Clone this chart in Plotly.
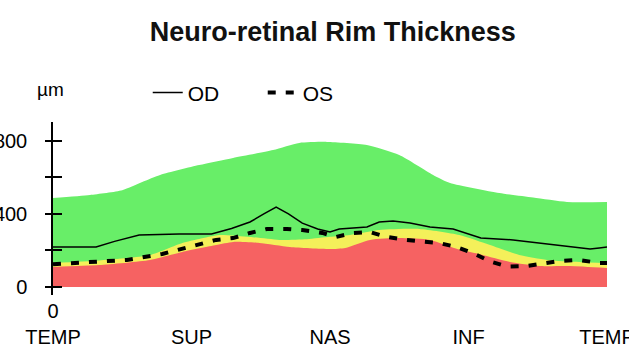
import plotly.graph_objects as go

# ---- data (degrees around the disc, thickness in µm) ----
green_deg = [0, 24, 45, 58, 70, 95, 117, 143, 160, 178, 204, 225, 247, 258, 290, 312, 334, 360]
green_top = [488, 504, 530, 575, 615, 668, 707, 750, 789, 795, 778, 723, 614, 570, 515, 490, 466, 466]

yellow_deg = [0, 30, 63, 84, 95, 108, 128, 147, 165, 180, 193, 212, 238, 264, 284, 303, 321, 342, 360]
yellow_top = [131, 145, 175, 241, 263, 285, 274, 258, 262, 275, 285, 312, 318, 285, 230, 175, 148, 137, 131]

red_deg = [0, 30, 63, 84, 106, 117, 134, 154, 180, 190, 206, 225, 245, 264, 278, 297, 316, 336, 360]
red_top = [110, 120, 148, 192, 230, 247, 241, 219, 208, 214, 258, 268, 258, 205, 178, 137, 115, 115, 104]

od_deg = [0, 28, 40, 56, 82, 103, 116, 128, 137, 145, 153, 162, 172, 180, 186, 195, 204, 212, 221, 232, 245, 260, 271, 278, 299, 316, 334, 349, 355, 360]
od_val = [219, 219, 250, 285, 290, 290, 320, 356, 400, 438, 400, 350, 318, 301, 318, 322, 329, 356, 362, 351, 329, 318, 290, 268, 258, 241, 225, 208, 214, 219]

os_deg = [0, 48, 71, 84, 95, 106, 117, 128, 139, 152, 162, 175, 184, 195, 206, 217, 229, 240, 251, 262, 273, 284, 295, 308, 318, 329, 342, 355, 360]
os_val = [125, 148, 181, 208, 236, 258, 268, 296, 318, 318, 312, 296, 274, 296, 301, 274, 258, 247, 241, 219, 185, 140, 112, 115, 126, 142, 148, 131, 131]

x_tickvals = [0, 90, 180, 270, 360]
x_ticktext = ["0<br>TEMP", " <br>SUP", " <br>NAS", " <br>INF", " <br>TEMP"]
y_tickvals = [0, 200, 400, 600, 800]
y_ticktext = ["0", "", "400", "", "800"]

FONT = "Liberation Sans, Arial, sans-serif"

fig = go.Figure()
band_style = dict(mode="lines", line=dict(width=0, shape="spline", smoothing=0.6),
                  fill="tozeroy", showlegend=False, hoverinfo="skip")
fig.add_trace(go.Scatter(x=green_deg, y=green_top, fillcolor="rgb(104,238,104)", **band_style))
fig.add_trace(go.Scatter(x=yellow_deg, y=yellow_top, fillcolor="rgb(244,240,90)", **band_style))
fig.add_trace(go.Scatter(x=red_deg, y=red_top, fillcolor="rgb(246,98,98)", **band_style))

fig.add_trace(go.Scatter(x=od_deg, y=od_val, mode="lines", name="OD",
                         line=dict(color="black", width=1.5)))
fig.add_trace(go.Scatter(x=os_deg, y=os_val, mode="lines", name="OS",
                         line=dict(color="black", width=4, dash="8px,10px")))
# helper axis for the inner half of the crossing ticks
fig.add_trace(go.Scatter(x=[], y=[], yaxis="y2", showlegend=False))

fig.update_layout(
    width=629, height=349,
    margin=dict(l=53, r=22, t=122, b=54, autoexpand=False),
    paper_bgcolor="white", plot_bgcolor="white",
    font=dict(family=FONT, size=20, color="black"),
    title=dict(text="<b>Neuro-retinal Rim Thickness</b>", x=0.529, xanchor="center",
               y=0.911, yanchor="middle", yref="container", xref="container",
               font=dict(family=FONT, size=27, color="#111")),
    xaxis=dict(range=[0, 360], tickvals=x_tickvals, ticktext=x_ticktext,
               showgrid=False, zeroline=False, showline=False, ticks="",
               tickfont=dict(size=20), ticklabelstandoff=2, automargin=False,
               ticklabeloverflow="allow"),
    yaxis=dict(range=[-44, 904], tickvals=y_tickvals, ticktext=y_ticktext,
               showgrid=False, zeroline=False, showline=True, linecolor="black",
               linewidth=1.5, ticks="outside", ticklen=6, tickwidth=1.5,
               tickcolor="black", tickfont=dict(size=20), ticklabelstandoff=14,
               automargin=False, ticklabeloverflow="allow"),
    yaxis2=dict(range=[-44, 904], overlaying="y", side="left", anchor="x",
                tickvals=y_tickvals, showticklabels=False, showgrid=False,
                zeroline=False, showline=False, ticks="inside", ticklen=9,
                tickwidth=1.5, tickcolor="black", automargin=False),
    legend=dict(orientation="h", x=0.171, y=1.168, xanchor="left", yanchor="middle",
                font=dict(family=FONT, size=21), bgcolor="rgba(0,0,0,0)",
                entrywidth=70, entrywidthmode="pixels", tracegroupgap=0),
    annotations=[dict(text="µm", xref="paper", yref="paper", x=-0.004, y=1.19,
                      xanchor="center", yanchor="middle", showarrow=False,
                      font=dict(family=FONT, size=19))],
)

fig.write_html("out.html", config={"displayModeBar": False},
               post_script="document.body.style.margin='0px';")
